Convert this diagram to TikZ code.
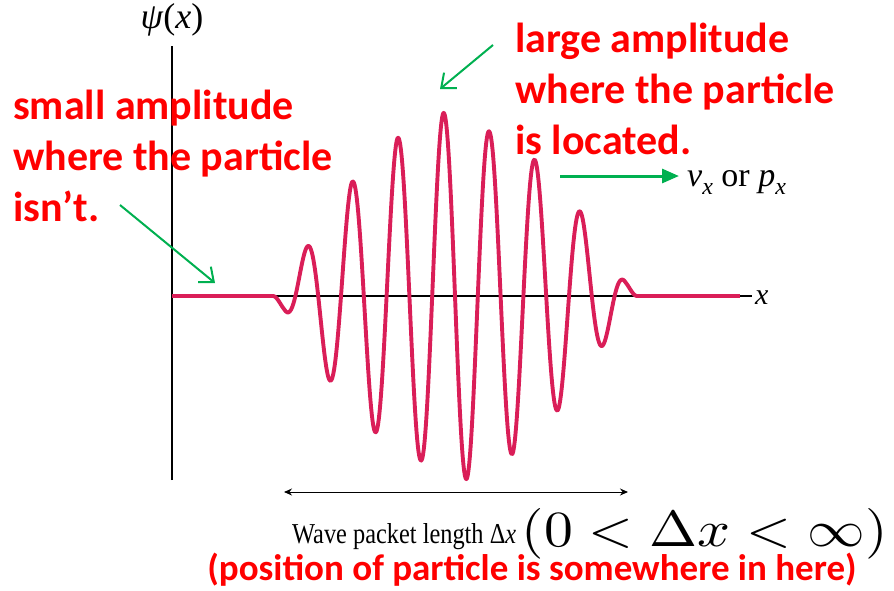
\documentclass[tikz,border=0pt]{standalone}
\usepackage[no-math]{fontspec}
\setmainfont{Liberation Serif}
\newfontfamily\calibri{Carlito}
\usetikzlibrary{arrows.meta}
\definecolor{wavecol}{RGB}{218,30,88}
\definecolor{grn}{RGB}{0,176,80}
\definecolor{rd}{RGB}{255,0,0}
\tikzset{
  axis/.style={draw=black, line width=1.6pt},
  wave/.style={draw=wavecol, line width=3.9pt, line join=round},
  garrow/.style={draw=grn, line width=2pt, -{Straight Barb[length=12pt,width=20pt,line width=2pt]}},
  harrow/.style={draw=grn, line width=3pt, -{Triangle[length=17pt,width=14pt]}},
  darrow/.style={draw=black, line width=1pt, {Stealth[length=8pt,width=7pt]}-{Stealth[length=8pt,width=7pt]}},
  redtxt/.style={text=rd, font=\calibri\bfseries\fontsize{42}{51}\selectfont, align=left, inner sep=0pt},
  lab/.style={inner sep=0pt, font=\fontsize{30}{34}\selectfont}
}
\begin{document}
\begin{tikzpicture}[x=1pt,y=-1pt,
  declare function={
    lin(\t,\a,\b,\p,\q)=\p+(\q-\p)*(\t-\a)/(\b-\a);
    env(\t)=(\t<12) ? lin(\t,0,12,186,183) :
            ((\t<35) ? lin(\t,12,35,183,164) :
            ((\t<58) ? lin(\t,35,58,164,158) :
            ((\t<81) ? lin(\t,58,81,158,135) :
            ((\t<104) ? lin(\t,81,104,135,113) :
            ((\t<127) ? lin(\t,104,127,113,82) :
            ((\t<150) ? lin(\t,127,150,82,46) :
            ((\t<171) ? lin(\t,150,171,46,13) :
            ((\t<182) ? lin(\t,171,182,13,0) : 0))))))));
  }]
\useasboundingbox (0,0) rectangle (894,590);
% axes
\coordinate (O) at (172,296);
\coordinate (ytop) at (172,46);
\coordinate (ybot) at (172,480);
\coordinate (xend) at (752,296);
\draw[axis] (ybot) -- (ytop);
\draw[axis] (O) -- (xend);
\node[lab, anchor=west] (xl) at (755,298) {\textit{x}};
\node[lab, font=\fontsize{36}{40}\selectfont] (psi) at (172,20) {\textit{ψ}(\textit{x})};
% wave packet
\draw[wave] plot[domain=172:740, samples=800] (\x, {296+env(abs(\x-455))*sin(((\x-455)/45.6)*360)});
% green arrows
\coordinate (g1s) at (120,205); \coordinate (g1e) at (215,283);
\draw[garrow] (g1s) -- (g1e);
\coordinate (g2s) at (493,45); \coordinate (g2e) at (440,89);
\draw[garrow] (g2s) -- (g2e);
\coordinate (g3s) at (560,176); \coordinate (g3e) at (679,176);
\draw[harrow] (g3s) -- (g3e);
\node[lab, font=\fontsize{34}{36}\selectfont, anchor=base west] (vp) at (687,186) {\textit{v}\raisebox{-0.25em}{\fontsize{24}{26}\selectfont\textit{x}} or \textit{p}\raisebox{-0.25em}{\fontsize{24}{26}\selectfont\textit{x}}};
% length arrow
\coordinate (la) at (284,492); \coordinate (lb) at (628,492);
\draw[darrow] (la) -- (lb);
\node[anchor=base west, inner sep=0pt] (wpl) at (292,543) {\resizebox{224pt}{20pt}{Wave packet length Δ\textit{x}}};
\node[anchor=base east, inner sep=0pt] (rng) at (888,546) {\resizebox{366pt}{38pt}{$(0<\Delta x<\infty)$}};
% red texts
\node[redtxt, anchor=north west] (small) at (13,90) {small amplitude\\where the particle\\isn’t.};
\node[redtxt, anchor=north west] (large) at (515,23) {large amplitude\\where the particle\\is located.};
\node[text=rd, font=\calibri\bfseries\fontsize{37}{42}\selectfont, inner sep=0pt, anchor=base] (pos) at (532,580) {(position of particle is somewhere in here)};
\end{tikzpicture}
\end{document}
